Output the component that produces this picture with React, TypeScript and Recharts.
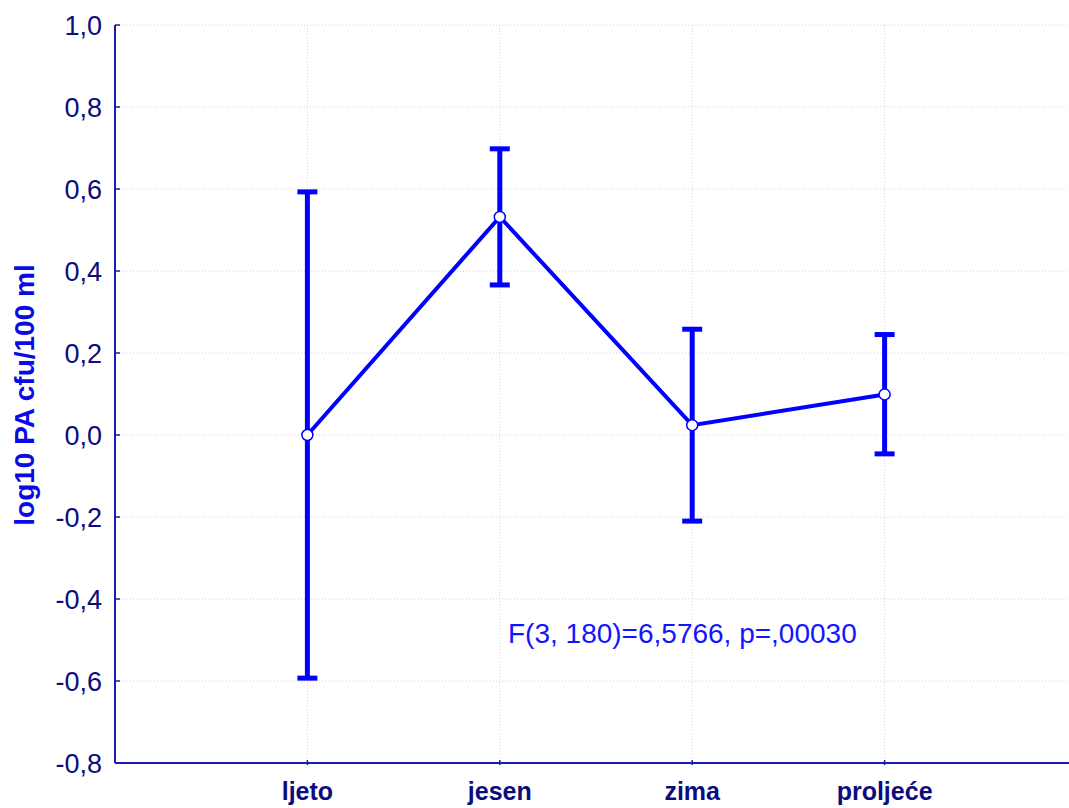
import React from 'react'
import {
  LineChart, Line, XAxis, YAxis, CartesianGrid, ErrorBar, Customized
} from 'recharts'

// seasons on the x axis
const categories = ['ljeto', 'jesen', 'zima', 'proljeće']
// mean of log10 PA cfu/100 ml per season
const means = [0.0, 0.532, 0.024, 0.099]
// upper / lower ends of the error bars
const upper = [0.593, 0.698, 0.258, 0.245]
const lower = [-0.593, 0.366, -0.210, -0.046]
const yTicks = [-0.8, -0.6, -0.4, -0.2, 0, 0.2, 0.4, 0.6, 0.8, 1.0]
const statText = 'F(3, 180)=6,5766, p=,00030'

const NAVY = '#0c0c7c'
const AXIS = '#1c1ca8'
const BLUE = '#0000ff'
const FONT = '"Liberation Sans", Arial, sans-serif'

const data = categories.map((name, i) => ({
  pos: i + 1,
  name,
  mean: means[i],
  err: [means[i] - lower[i], upper[i] - means[i]],
}))

const fmt = (v: number) => v.toFixed(1).replace('.', ',')

function YTick(props: any) {
  const { x, y, payload } = props
  return (
    <g>
      <line x1={x + 13} x2={x + 18} y1={y} y2={y} stroke={AXIS} strokeWidth={1.5} />
      <text x={x} y={y} dy="0.36em" textAnchor="end" fill={NAVY}
        fontFamily={FONT} fontSize={27}>
        {fmt(payload.value)}
      </text>
    </g>
  )
}

function XTick(props: any) {
  const { x, y, payload } = props
  return (
    <g>
      <line x1={x} x2={x} y1={y} y2={y - 5} stroke={AXIS} strokeWidth={1.5} />
      <text x={x} y={y + 35} textAnchor="middle" fill={NAVY}
        fontFamily={FONT} fontSize={25} fontWeight="bold">
        {categories[payload.value - 1]}
      </text>
    </g>
  )
}

function Dot(props: any) {
  const { cx, cy } = props
  return <circle cx={cx} cy={cy} r={5.5} fill="#fff" stroke={BLUE} strokeWidth={1.5} />
}

export default function App() {
  return (
    <div style={{ position: 'absolute', left: 0, top: 0, width: 1069, height: 808, overflow: 'hidden', background: '#fff' }}>
      <LineChart
        width={1077}
        height={808}
        data={data}
        margin={{ top: 25, right: 0, bottom: 0, left: 0 }}
      >
        <CartesianGrid stroke="#d4d4d4" strokeDasharray="1 2" />
        <XAxis
          dataKey="pos"
          type="number"
          domain={[0, 5]}
          ticks={[1, 2, 3, 4]}
          height={45}
          tickSize={0}
          tickLine={false}
          tick={<XTick />}
          axisLine={{ stroke: AXIS, strokeWidth: 2 }}
          interval={0}
        />
        <YAxis
          type="number"
          domain={[-0.8, 1.0]}
          ticks={yTicks}
          width={115}
          tickSize={0}
          tickMargin={13}
          tickLine={false}
          tick={<YTick />}
          axisLine={{ stroke: AXIS, strokeWidth: 2 }}
          interval={0}
          label={{
            value: 'log10 PA cfu/100 ml',
            angle: -90,
            content: () => (
              <text
                x={34}
                y={395}
                transform="rotate(-90 34 395)"
                textAnchor="middle"
                fill="#0a0ae6"
                fontFamily={FONT}
                fontSize={28}
                fontWeight="bold"
              >
                log10 PA cfu/100 ml
              </text>
            ),
          }}
        />
        <Line
          dataKey="mean"
          stroke={BLUE}
          strokeWidth={4}
          dot={<Dot />}
          activeDot={false}
          isAnimationActive={false}
        >
          <ErrorBar dataKey="err" direction="y" width={10} stroke={BLUE} strokeWidth={5} />
        </Line>
        <Customized
          component={() => (
            <text x={508} y={643} fill="#1414ff" fontFamily={FONT} fontSize={28}>
              {statText}
            </text>
          )}
        />
      </LineChart>
    </div>
  )
}
